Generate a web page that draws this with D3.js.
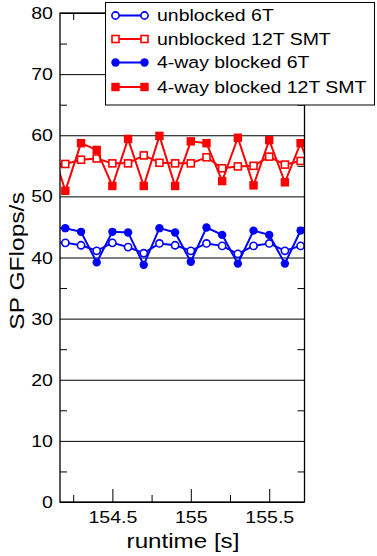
<!DOCTYPE html>
<html>
<head>
<meta charset="utf-8">
<script src="https://cdn.jsdelivr.net/npm/d3@7"></script>
<style>
  body { margin: 0; background: #fff; }
  text { font-family: "Liberation Sans", Arial, Helvetica, sans-serif; fill: #000; }
</style>
</head>
<body>
<div id="chart"></div>
<script>
// runtime samples [s] (first and last fall just outside the visible window)
var times = [154.1, 154.2, 154.3, 154.4, 154.5, 154.6, 154.7, 154.8, 154.9,
             155.0, 155.1, 155.2, 155.3, 155.4, 155.5, 155.6, 155.7, 155.8]
var unblocked6T   = [42.5, 42.4, 42.0, 41.1, 42.4, 41.7, 40.7, 42.3, 42.0, 41.1, 42.3, 41.9, 40.6, 41.9, 42.3, 41.1, 41.9, 41.5]
var unblocked12T  = [55.3, 55.3, 56.0, 56.2, 55.4, 55.4, 56.7, 55.5, 55.4, 55.4, 56.4, 54.6, 54.9, 55.0, 56.5, 55.2, 55.8, 55.5]
var blocked6T     = [44.6, 44.8, 44.2, 39.2, 44.2, 44.1, 38.8, 44.8, 44.1, 39.3, 44.9, 43.7, 39.0, 44.4, 43.7, 39.0, 44.4, 44.0]
var blocked12T    = [59.0, 50.9, 58.7, 57.6, 51.7, 59.4, 51.7, 59.9, 51.7, 59.0, 58.7, 52.5, 59.6, 51.8, 59.2, 52.3, 58.7, 52.0]

var seriesNames = ["unblocked 6T", "unblocked 12T SMT", "4-way blocked 6T", "4-way blocked 12T SMT"]
var seriesValues = [unblocked6T, unblocked12T, blocked6T, blocked12T]
var seriesColors = ["#0000ff", "#ff0000", "#0000ff", "#ff0000"]
var seriesShapes = ["circle", "square", "circle", "square"]
var seriesFilled = [false, false, true, true]

var xMajor = [154.5, 155, 155.5]
var xMinor = [154.25, 154.75, 155.25]
var yMajor = [0, 10, 20, 30, 40, 50, 60, 70, 80]
var yMinor = [5, 15, 25, 35, 45, 55, 65, 75]

var W = 377, H = 556
var pLeft = 60, pRight = 304.5, pTop = 13, pBottom = 502

var svg = d3.select("#chart").append("svg")
    .attr("width", W).attr("height", H)

var x = d3.scaleLinear().domain([154.166, 155.725]).range([pLeft, pRight])
var y = d3.scaleLinear().domain([0, 80]).range([pBottom, pTop])

// gridlines + y labels
var gLeft = svg.append("g").attr("transform", "translate(" + pLeft + ",0)")
    .call(d3.axisLeft(y).tickValues(yMajor).tickSize(-(pRight - pLeft)).tickFormat(d3.format("d")))
gLeft.select(".domain").remove()
gLeft.selectAll(".tick line").attr("stroke", "#000").attr("stroke-width", 1)
gLeft.selectAll(".tick text")
    .attr("x", 0).attr("dy", "0.34em")
    .attr("transform", "translate(-7,0) scale(1.2,1)")
    .style("font-size", "16.3px")

function minorAxis(axis, tr) {
    var g = svg.append("g").attr("transform", tr).call(axis)
    g.select(".domain").remove()
    g.selectAll("text").remove()
    g.selectAll(".tick line").attr("stroke", "#000").attr("stroke-width", 1)
    return g
}
minorAxis(d3.axisLeft(y).tickValues(yMinor).tickSize(-7), "translate(" + pLeft + ",0)")
minorAxis(d3.axisRight(y).tickValues(yMinor).tickSize(-7), "translate(" + pRight + ",0)")
minorAxis(d3.axisBottom(x).tickValues(xMinor).tickSize(-7), "translate(0," + pBottom + ")")
minorAxis(d3.axisTop(x).tickValues(xMinor).tickSize(-7), "translate(0," + pTop + ")")
minorAxis(d3.axisTop(x).tickValues(xMajor).tickSize(-13), "translate(0," + pTop + ")")

var gBottom = svg.append("g").attr("transform", "translate(0," + pBottom + ")")
    .call(d3.axisBottom(x).tickValues(xMajor).tickSize(-13).tickFormat(d3.format("")))
gBottom.select(".domain").remove()
gBottom.selectAll(".tick line").attr("stroke", "#000").attr("stroke-width", 1)
gBottom.selectAll(".tick text")
    .attr("y", 0).attr("dy", 0)
    .attr("transform", "translate(0,21) scale(1.2,1)")
    .style("font-size", "16.3px")

// clip to plot area
svg.append("clipPath").attr("id", "plotclip")
    .append("rect").attr("x", pLeft).attr("y", pTop)
    .attr("width", pRight - pLeft).attr("height", pBottom - pTop)

var plot = svg.append("g").attr("clip-path", "url(#plotclip)")

var line = d3.line()
    .x(function(d, i) { return x(times[i]) })
    .y(function(d) { return y(d) })

function drawMarkers(g, data, k, xf, yf) {
    var col = seriesColors[k], filled = seriesFilled[k]
    if (seriesShapes[k] == "circle") {
        g.selectAll("circle.s" + k).data(data).enter().append("circle")
            .attr("class", "s" + k)
            .attr("cx", xf).attr("cy", yf)
            .attr("r", filled ? 4.2 : 3.6)
            .attr("fill", filled ? col : "#fff")
            .attr("stroke", col).attr("stroke-width", filled ? 0 : 1.6)
    } else {
        var s = filled ? 8.4 : 7
        g.selectAll("rect.s" + k).data(data).enter().append("rect")
            .attr("class", "s" + k)
            .attr("x", function(d, i) { return xf(d, i) - s / 2 })
            .attr("y", function(d, i) { return yf(d, i) - s / 2 })
            .attr("width", s).attr("height", s)
            .attr("fill", filled ? col : "#fff")
            .attr("stroke", col).attr("stroke-width", filled ? 0 : 1.6)
    }
}

seriesValues.forEach(function(vals, k) {
    plot.append("path").datum(vals)
        .attr("d", line)
        .attr("fill", "none")
        .attr("stroke", seriesColors[k])
        .attr("stroke-width", 2)
    drawMarkers(plot, vals, k,
        function(d, i) { return x(times[i]) },
        function(d) { return y(d) })
})

// frame
svg.append("rect")
    .attr("x", pLeft).attr("y", pTop)
    .attr("width", pRight - pLeft).attr("height", pBottom - pTop)
    .attr("fill", "none").attr("stroke", "#000").attr("stroke-width", 1.3)

// legend
var legend = svg.append("g")
legend.append("rect")
    .attr("x", 105.5).attr("y", 2.5).attr("width", 269).attr("height", 102.5)
    .attr("fill", "#fff").attr("stroke", "#000").attr("stroke-width", 1)
var rowY = [15.5, 39, 62.5, 87]
seriesNames.forEach(function(name, k) {
    var ly = rowY[k]
    legend.append("line")
        .attr("x1", 115).attr("x2", 145).attr("y1", ly).attr("y2", ly)
        .attr("stroke", seriesColors[k]).attr("stroke-width", 2)
    drawMarkers(legend, [0, 1], k,
        function(d) { return d ? 144.5 : 115.5 },
        function() { return ly })
    legend.append("text")
        .attr("transform", "translate(157," + ly + ") scale(1.18,1)")
        .attr("dy", "0.35em")
        .style("font-size", "16.5px")
        .text(name)
})

// axis titles
svg.append("text")
    .attr("transform", "translate(183,548) scale(1.24,1)")
    .attr("text-anchor", "middle")
    .style("font-size", "19.5px")
    .text("runtime [s]")

svg.append("text")
    .attr("transform", "translate(24,261) rotate(-90) scale(1.26,1)")
    .attr("text-anchor", "middle")
    .style("font-size", "19.5px")
    .text("SP GFlops/s")
</script>
</body>
</html>
